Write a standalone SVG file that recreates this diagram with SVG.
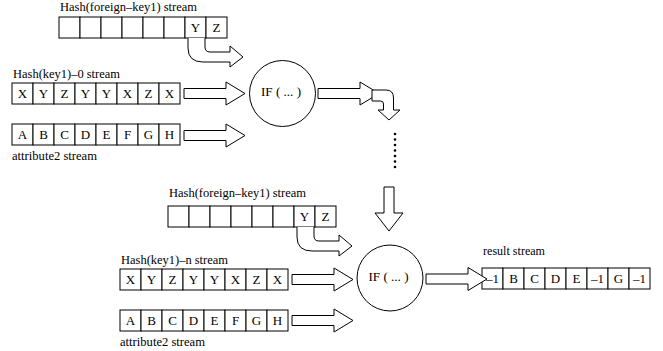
<svg xmlns="http://www.w3.org/2000/svg" width="663" height="351" viewBox="0 0 663 351">
  <style>
    .cell { fill: #fff; stroke: #000; stroke-width: 1; }
    .ln { fill: #fff; stroke: #000; stroke-width: 1; stroke-linejoin: miter; }
    text { font-family: "Liberation Serif", "Times New Roman", "DejaVu Serif", serif; fill: #000; }
    .lbl { font-size: 12.5px; }
    .ch { font-size: 13px; text-anchor: middle; }
    .op { font-size: 12.5px; text-anchor: middle; }
    .dot { fill: #000; }
  </style>
  <defs>
    <!-- straight block arrow, tail at (0,0) centre line -->
    <path id="blockArrow" d="M0,-5 L42,-5 L42,-11.5 L61,0 L42,11.5 L42,5 L0,5 Z"/>
    <!-- bent block arrow leaving a cell downward and turning right -->
    <path id="bendArrow" d="M0,0 L0,10 Q0,24 15,24 L42,24 L42,29 L55,19 L42,8 L42,14 L22,14 Q17,14 17,9 L17,0"/>
    <!-- eight-cell stream of boxes -->
    <g id="row8">
      <rect class="cell" x="0" y="0" width="21" height="21"/>
      <rect class="cell" x="21" y="0" width="21" height="21"/>
      <rect class="cell" x="42" y="0" width="21" height="21"/>
      <rect class="cell" x="63" y="0" width="21" height="21"/>
      <rect class="cell" x="84" y="0" width="21" height="21"/>
      <rect class="cell" x="105" y="0" width="21" height="21"/>
      <rect class="cell" x="126" y="0" width="21" height="21"/>
      <rect class="cell" x="147" y="0" width="21" height="21"/>
    </g>
  </defs>

  <!-- upper stage -->
  <g id="fk-stream-0">
    <text class="lbl" x="60" y="11" textLength="137" lengthAdjust="spacingAndGlyphs">Hash(foreign–key1) stream</text>
    <use href="#row8" x="59" y="17"/>
    <text class="ch" x="195.5" y="32">Y</text>
    <text class="ch" x="216.5" y="32">Z</text>
  </g>

  <g id="key-stream-0">
    <text class="lbl" x="13" y="78" textLength="107" lengthAdjust="spacingAndGlyphs">Hash(key1)–0 stream</text>
    <use href="#row8" x="12" y="83"/>
    <text class="ch" x="22.5" y="98">X</text>
    <text class="ch" x="43.5" y="98">Y</text>
    <text class="ch" x="64.5" y="98">Z</text>
    <text class="ch" x="85.5" y="98">Y</text>
    <text class="ch" x="106.5" y="98">Y</text>
    <text class="ch" x="127.5" y="98">X</text>
    <text class="ch" x="148.5" y="98">Z</text>
    <text class="ch" x="169.5" y="98">X</text>
  </g>

  <g id="attr-stream-0">
    <use href="#row8" x="12" y="124"/>
    <text class="ch" x="22.5" y="139">A</text>
    <text class="ch" x="43.5" y="139">B</text>
    <text class="ch" x="64.5" y="139">C</text>
    <text class="ch" x="85.5" y="139">D</text>
    <text class="ch" x="106.5" y="139">E</text>
    <text class="ch" x="127.5" y="139">F</text>
    <text class="ch" x="148.5" y="139">G</text>
    <text class="ch" x="169.5" y="139">H</text>
    <text class="lbl" x="12" y="160" textLength="85" lengthAdjust="spacingAndGlyphs">attribute2 stream</text>
  </g>

  <g id="if-0">
    <circle class="ln" cx="282.5" cy="93.5" r="33"/>
    <text class="op" x="281" y="96" textLength="40" lengthAdjust="spacingAndGlyphs">IF ( ... )</text>
  </g>

  <!-- lower stage -->
  <g id="fk-stream-n">
    <text class="lbl" x="169" y="197" textLength="137" lengthAdjust="spacingAndGlyphs">Hash(foreign–key1) stream</text>
    <use href="#row8" x="168" y="206"/>
    <text class="ch" x="304.5" y="221">Y</text>
    <text class="ch" x="325.5" y="221">Z</text>
  </g>

  <g id="key-stream-n">
    <text class="lbl" x="121" y="264" textLength="107" lengthAdjust="spacingAndGlyphs">Hash(key1)–n stream</text>
    <use href="#row8" x="120" y="269"/>
    <text class="ch" x="130.5" y="284">X</text>
    <text class="ch" x="151.5" y="284">Y</text>
    <text class="ch" x="172.5" y="284">Z</text>
    <text class="ch" x="193.5" y="284">Y</text>
    <text class="ch" x="214.5" y="284">Y</text>
    <text class="ch" x="235.5" y="284">X</text>
    <text class="ch" x="256.5" y="284">Z</text>
    <text class="ch" x="277.5" y="284">X</text>
  </g>

  <g id="attr-stream-n">
    <use href="#row8" x="120" y="310"/>
    <text class="ch" x="130.5" y="325">A</text>
    <text class="ch" x="151.5" y="325">B</text>
    <text class="ch" x="172.5" y="325">C</text>
    <text class="ch" x="193.5" y="325">D</text>
    <text class="ch" x="214.5" y="325">E</text>
    <text class="ch" x="235.5" y="325">F</text>
    <text class="ch" x="256.5" y="325">G</text>
    <text class="ch" x="277.5" y="325">H</text>
    <text class="lbl" x="120" y="346" textLength="85" lengthAdjust="spacingAndGlyphs">attribute2 stream</text>
  </g>

  <g id="if-n">
    <circle class="ln" cx="390" cy="278" r="33"/>
    <text class="op" x="388.5" y="281" textLength="40" lengthAdjust="spacingAndGlyphs">IF ( ... )</text>
  </g>

  <g id="result-stream">
    <text class="lbl" x="483" y="255" textLength="62" lengthAdjust="spacingAndGlyphs">result stream</text>
    <use href="#row8" x="482" y="268"/>
    <text class="ch" x="492.5" y="283" textLength="13" lengthAdjust="spacingAndGlyphs">–1</text>
    <text class="ch" x="513.5" y="283">B</text>
    <text class="ch" x="534.5" y="283">C</text>
    <text class="ch" x="555.5" y="283">D</text>
    <text class="ch" x="576.5" y="283">E</text>
    <text class="ch" x="597.5" y="283" textLength="13" lengthAdjust="spacingAndGlyphs">–1</text>
    <text class="ch" x="618.5" y="283">G</text>
    <text class="ch" x="639.5" y="283" textLength="13" lengthAdjust="spacingAndGlyphs">–1</text>
  </g>

  <!-- connectors -->
  <g id="connectors">
    <use class="ln" href="#bendArrow" x="188" y="38"/>
    <use class="ln" href="#blockArrow" x="184" y="93.5"/>
    <use class="ln" href="#blockArrow" x="184" y="135.5"/>
    <use class="ln" href="#blockArrow" x="318" y="93.5"/>
    <!-- bend from the first operator down to the continuation dots -->
    <path class="ln" d="M372,90 L386,90 Q393.5,90 393.5,98 L393.5,110 L400,110 L389,120 L378,110 L383.5,110 L383.5,104 Q383.5,101 380.5,101 L372,101 Z"/>
    <circle class="dot" cx="395" cy="134" r="1.3"/>
    <circle class="dot" cx="395" cy="139.5" r="1.3"/>
    <circle class="dot" cx="395" cy="145" r="1.3"/>
    <circle class="dot" cx="395" cy="150.5" r="1.3"/>
    <circle class="dot" cx="395" cy="156" r="1.3"/>
    <circle class="dot" cx="395" cy="161.5" r="1.3"/>
    <circle class="dot" cx="395" cy="167" r="1.3"/>
    <path class="ln" d="M384,187 L394,187 L394,213 L403,213 L389,231 L375,213 L384,213 Z"/>
    <use class="ln" href="#bendArrow" x="297" y="227"/>
    <use class="ln" href="#blockArrow" x="292" y="279.5"/>
    <use class="ln" href="#blockArrow" x="292" y="320.5"/>
    <use class="ln" href="#blockArrow" x="426" y="279"/>
  </g>
</svg>
